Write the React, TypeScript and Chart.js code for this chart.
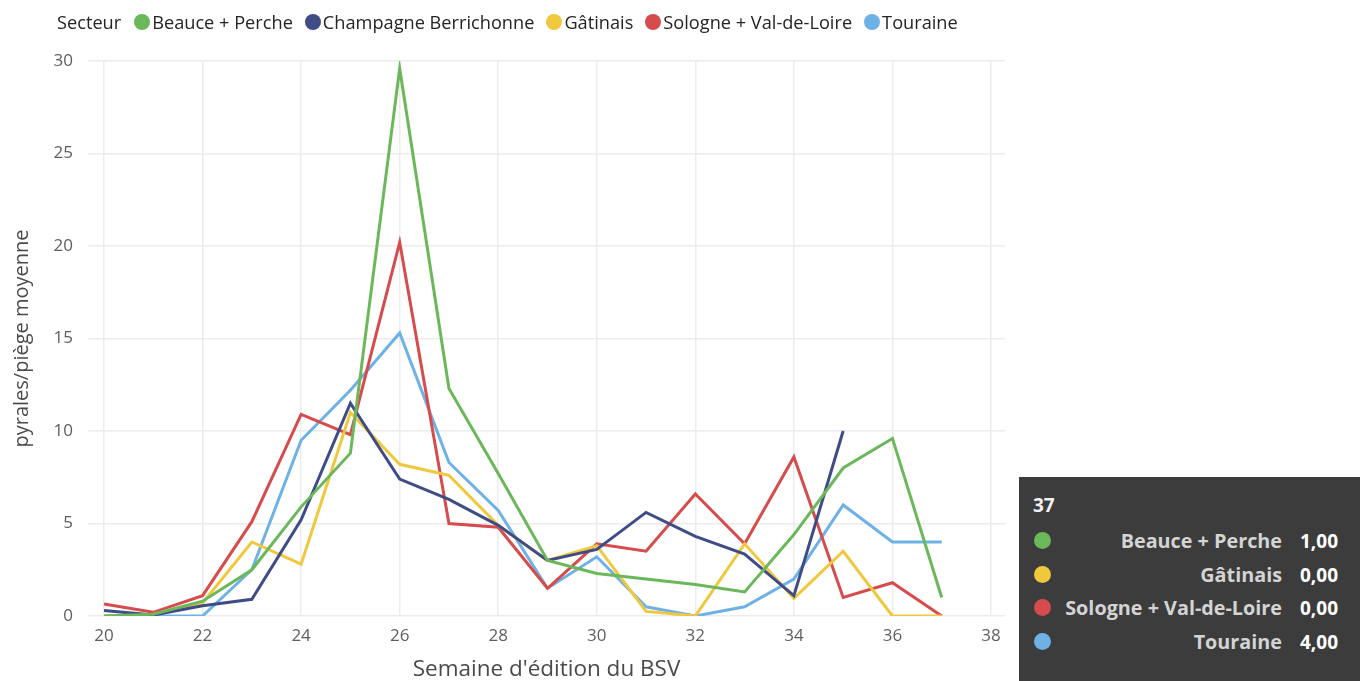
import React, { useEffect, useRef } from "react";
import { Chart, registerables } from "chart.js";

Chart.register(...registerables);

const weeks = [20, 21, 22, 23, 24, 25, 26, 27, 28, 29, 30, 31, 32, 33, 34, 35, 36, 37];
const xTickValues = [20, 22, 24, 26, 28, 30, 32, 34, 36, 38];

const beauce = [0, 0.1, 0.8, 2.5, 5.9, 8.8, 29.6, 12.3, 7.7, 3.0, 2.3, 2.0, 1.7, 1.3, 4.4, 8.0, 9.6, 1.0];
const champagne: (number | null)[] = [0.3, 0.05, 0.55, 0.9, 5.2, 11.5, 7.4, 6.3, 4.9, 3.0, 3.6, 5.6, 4.3, 3.35, 1.1, 10.0, null, null];
const gatinais = [0, 0.1, 0.7, 4.0, 2.8, 11.0, 8.2, 7.6, 4.9, 3.0, 3.8, 0.25, 0, 3.9, 0.95, 3.5, 0, 0];
const sologne = [0.65, 0.2, 1.1, 5.1, 10.9, 9.8, 20.2, 5.0, 4.8, 1.5, 3.9, 3.5, 6.6, 3.9, 8.6, 1.0, 1.8, 0];
const touraine = [0, 0, 0, 2.5, 9.5, 12.2, 15.3, 8.3, 5.7, 1.5, 3.2, 0.5, 0, 0.5, 2.0, 6.0, 4.0, 4.0];

const seriesNames = ["Beauce + Perche", "Champagne Berrichonne", "Gâtinais", "Sologne + Val-de-Loire", "Touraine"];
const seriesColors = ["#6BB85B", "#3F4C86", "#F0C83E", "#D64B4B", "#6EB1E6"];
const seriesValues = [beauce, champagne, gatinais, sologne, touraine];

const legendTitle = "Secteur";
const xTitle = "Semaine d'édition du BSV";
const yTitle = "pyrales/piège moyenne";
const hoverIndex = 17;

const FONT = "'Open Sans', 'Noto Sans', sans-serif";

function fmt(v: number) {
  return v.toFixed(2).replace(".", ",");
}

export default function App() {
  const ref = useRef<HTMLCanvasElement | null>(null);

  useEffect(() => {
    if (!ref.current) return;
    const chart = new Chart(ref.current, {
      type: "line",
      data: {
        datasets: seriesNames.map((name, i) => ({
          label: name,
          data: weeks.map((w, j) => ({ x: w, y: seriesValues[i][j] as any })),
          borderColor: seriesColors[i],
          backgroundColor: seriesColors[i],
          borderWidth: 3,
          pointRadius: 0,
          pointHoverRadius: 0,
          tension: 0,
          spanGaps: false,
        })),
      },
      options: {
        animation: false,
        responsive: true,
        maintainAspectRatio: false,
        layout: { padding: { left: 0, right: 15, top: 61, bottom: 0 } },
        plugins: { legend: { display: false }, tooltip: { enabled: false } },
        scales: {
          x: {
            type: "linear",
            min: 19.675,
            max: 38.284,
            afterBuildTicks: (s: any) => {
              s.ticks = xTickValues.map((v) => ({ value: v }));
            },
            afterFit: (s: any) => {
              s.height = 65;
            },
            grid: { color: "#ECECEC", lineWidth: 1.5, drawTicks: false },
            border: { display: false },
            ticks: {
              padding: 10,
              color: "#605E5C",
              font: { family: FONT, size: 17 },
              maxRotation: 0,
            },
            title: {
              display: true,
              text: xTitle,
              color: "#4A4A4A",
              font: { family: FONT, size: 22.5, lineHeight: 1.0 },
              padding: { top: 0, bottom: 0 },
            },
          },
          y: {
            min: 0,
            max: 30,
            afterFit: (s: any) => {
              s.width = 88;
            },
            grid: { color: "#ECECEC", lineWidth: 1.5, drawTicks: false },
            border: { display: false },
            ticks: {
              stepSize: 5,
              padding: 15,
              color: "#605E5C",
              font: { family: FONT, size: 17 },
            },
            title: {
              display: true,
              text: yTitle,
              color: "#4A4A4A",
              font: { family: FONT, size: 20, lineHeight: 1.2 },
              padding: { top: 10, bottom: 0 },
            },
          },
        },
      },
    });
    if ((document as any).fonts) {
      (document as any).fonts.ready.then(() => chart.update());
    }
    return () => chart.destroy();
  }, []);

  const tipRows = seriesNames
    .map((name, i) => ({ name, color: seriesColors[i], v: seriesValues[i][hoverIndex] }))
    .filter((r) => r.v !== null && r.v !== undefined);

  return (
    <div style={{ position: "fixed", left: 0, top: 0, width: 1360, height: 681, background: "#fff", fontFamily: FONT, overflow: "hidden" }}>
      <div style={{ position: "absolute", left: 0, top: 0, width: 1020, height: 681 }}>
        <canvas ref={ref} />
      </div>
      <div style={{ position: "absolute", left: 57, top: 8, height: 28, display: "flex", alignItems: "center", fontSize: 18.2, color: "#252423", whiteSpace: "nowrap" }}>
        <span style={{ marginRight: 13 }}>{legendTitle}</span>
        {seriesNames.map((n, i) => (
          <span key={n} style={{ display: "flex", alignItems: "center", marginRight: 12 }}>
            <span style={{ width: 16, height: 16, borderRadius: 8, background: seriesColors[i], marginRight: 2, display: "inline-block" }} />
            <span>{n}</span>
          </span>
        ))}
      </div>
      <div style={{ position: "absolute", left: 1019, top: 477, width: 341, height: 204, background: "#3C3C3C" }}>
        <div style={{ position: "absolute", left: 14, top: 15, fontSize: 19, fontWeight: 700, color: "#F2F2F2" }}>{String(weeks[hoverIndex])}</div>
        {tipRows.map((r, i) => (
          <div key={r.name} style={{ position: "absolute", left: 0, top: 52 + i * 33.5, width: 341, height: 24 }}>
            <span style={{ position: "absolute", left: 15, top: 3, width: 17, height: 17, borderRadius: 9, background: r.color }} />
            <span style={{ position: "absolute", right: 341 - 263, top: 0, fontSize: 19.8, fontWeight: 700, color: "#D4D4D4", whiteSpace: "nowrap", lineHeight: "24px" }}>{r.name}</span>
            <span style={{ position: "absolute", left: 281, top: 0, fontSize: 19, fontWeight: 700, color: "#FFFFFF", lineHeight: "24px" }}>{fmt(r.v as number)}</span>
          </div>
        ))}
      </div>
    </div>
  );
}
